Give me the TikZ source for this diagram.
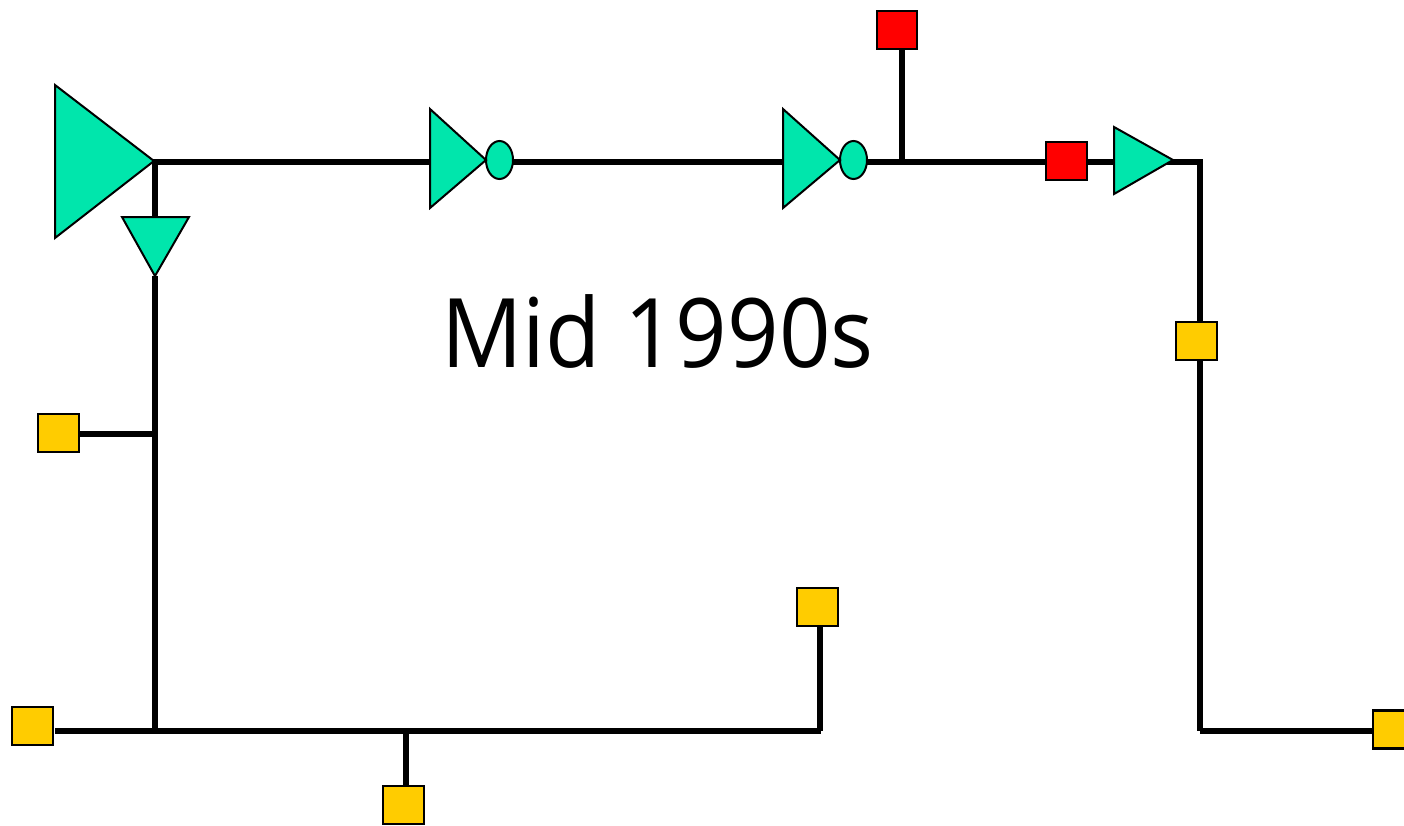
\documentclass[tikz,border=0pt]{standalone}
\usepackage{fontspec}
\setmainfont{Open Sans}
\newfontfamily\titlefont[FakeStretch=0.94]{Open Sans}
\definecolor{gatefill}{RGB}{0,230,172}
\definecolor{padred}{RGB}{255,0,0}
\definecolor{padyellow}{RGB}{255,204,0}
\tikzset{
  wire/.style={line width=6pt,line cap=butt,black},
  gate/.style={draw=black,fill=gatefill,line width=2pt,line join=miter},
  bubble/.style={ellipse,draw=black,fill=gatefill,line width=2pt,minimum width=27pt,minimum height=38pt,inner sep=0pt},
  pad/.style={rectangle,draw=black,line width=2.2pt,minimum width=40.5pt,minimum height=38pt,inner sep=0pt},
  redpad/.style={pad,fill=padred},
  yellowpad/.style={pad,fill=padyellow},
  title/.style={inner sep=0pt,font=\titlefont\fontsize{96pt}{96pt}\selectfont}
}
\usetikzlibrary{shapes.geometric}
\begin{document}
\begin{tikzpicture}[x=1pt,y=-1pt]
\useasboundingbox (0,0) rectangle (1404,825);
\clip (0,0) rectangle (1404,825);
% junctions
\coordinate (j1) at (155,162);
\coordinate (j2) at (155,434);
\coordinate (j3) at (155,731);
\coordinate (j4) at (406,731);
\coordinate (j5) at (821,731);
\coordinate (j6) at (902,162);
\coordinate (j7) at (1203,162);
\coordinate (j8) at (1200,731);
% gate terminals
\coordinate (a1o) at (154,161);
\coordinate (a2i) at (155,217);
\coordinate (a2o) at (155,276);
\coordinate (i1i) at (430,162);
\coordinate (i2i) at (783,162);
\coordinate (b1o) at (1172,162);
% pad and bubble positions
\coordinate (c1) at (499.5,160);
\coordinate (c2) at (853.5,160);
\coordinate (r1) at (897,30);
\coordinate (r2) at (1066.5,161);
\coordinate (y1) at (58.5,433);
\coordinate (y2) at (32.5,726);
\coordinate (y3) at (403.5,805);
\coordinate (y4) at (817.5,607);
\coordinate (y5) at (1196.5,341);
\coordinate (y6) at (1393,729.5);
\coordinate (w0) at (55,731);
% wires
\draw[wire] (j1) -- (i1i);
\draw[wire] (c1 |- j1) -- (i2i);
\draw[wire] (c2 |- j1) -- (j7);
\draw[wire] (b1o) -- (j7);
\draw[wire] (1200,159) -- (j8);
\draw[wire] (j8) -- (y6 |- j8);
\draw[wire] (155,159) -- (a2i);
\draw[wire] (a2o) -- (155,734);
\draw[wire] (y1 |- j2) -- (j2);
\draw[wire] (w0) -- (j5);
\draw[wire] (j4) -- (j4 |- y3);
\draw[wire] (820,607) -- (820,731);
\draw[wire] (902,30) -- (j6);
% pads and bubbles over the wires
\node[bubble] (n1) at (c1) {};
\node[bubble] (n2) at (c2) {};
\node[redpad] (p1) at (r1) {};
\node[redpad] (p2) at (r2) {};
\node[yellowpad] (p3) at (y1) {};
\node[yellowpad] (p4) at (y2) {};
\node[yellowpad] (p5) at (y3) {};
\node[yellowpad] (p6) at (y4) {};
\node[yellowpad] (p7) at (y5) {};
\node[yellowpad] (p8) at (y6) {};
% triangles
\draw[gate] (55,85) -- (a1o) -- (55,238) -- cycle;
\draw[gate] (122,217) -- (189,217) -- (a2o) -- cycle;
\draw[gate] (430,109) -- (486,160) -- (430,208) -- cycle;
\draw[gate] (783,109) -- (840,160) -- (783,208) -- cycle;
\draw[gate] (1114,127) -- (1173,160) -- (1114,194) -- cycle;
\node[title,anchor=base west] (t) at (441,367) {Mid 1990s};
\end{tikzpicture}
\end{document}
